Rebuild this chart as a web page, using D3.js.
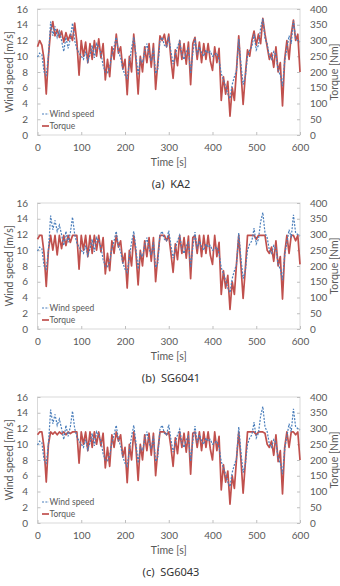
<!DOCTYPE html>
<html>
<head>
<meta charset="utf-8">
<title>Wind speed and torque</title>
<script src="https://cdn.jsdelivr.net/npm/d3@7/dist/d3.min.js"></script>
</head>
<body style="margin:0; background:#fff">
<svg width="340" height="586"></svg>

<script>
    // sample times [s]
    const time = [0,5,10,15,20,25,30,35,40,45,50,55,60,65,70,75,80,85,90,95,
        100,105,110,115,120,125,130,135,140,145,150,155,160,165,170,175,180,185,190,195,
        200,205,210,215,220,225,230,235,240,245,250,255,260,265,270,275,280,285,290,295,
        300,305,310,315,320,325,330,335,340,345,350,355,360,365,370,375,380,385,390,395,
        400,405,410,415,420,425,430,435,440,445,450,455,460,465,470,475,480,485,490,495,
        500,505,510,515,520,525,530,535,540,545,550,555,560,565,570,575,580,585,590,595,600];

    // wind speed [m/s] (same in every panel)
    const windSpeed = [9.9,10.4,10.2,8.0,7.6,10.0,14.4,12.6,13.8,12.4,13.2,12.0,10.6,12.4,11.0,12.2,14.2,12.0,10.9,10.4,
        10.0,9.6,10.6,9.3,10.2,11.4,9.8,11.6,11.2,10.4,8.8,8.0,7.9,8.6,10.2,11.2,12.4,10.6,9.8,8.4,
        7.6,7.2,9.2,11.0,12.4,10.2,7.6,9.6,9.2,10.6,11.6,10.2,9.4,11.0,7.8,8.4,12.0,12.4,11.4,11.2,
        12.5,10.6,9.0,10.2,11.2,11.9,10.2,9.6,10.6,11.0,7.8,10.4,12.3,10.2,11.2,10.4,10.0,10.8,10.4,10.6,
        10.0,10.2,10.4,9.6,7.8,7.0,6.2,5.2,4.6,6.4,7.4,8.2,12.2,9.0,6.4,7.4,10.0,10.8,11.2,12.8,
        10.8,11.4,13.6,14.8,12.2,11.6,10.0,9.6,10.6,10.2,8.2,7.6,6.2,9.4,11.0,12.6,11.6,14.5,12.2,12.0,11.8];

    // torque [Nm] for each turbine
    const torqueKA2 = [280,300,285,240,130,250,330,360,315,335,310,330,295,325,300,320,300,355,295,190,
        300,250,295,230,290,240,300,250,305,245,290,175,240,185,280,240,320,260,280,210,
        240,128,250,200,320,240,130,250,200,280,230,290,215,290,145,230,315,300,320,280,
        320,240,180,270,220,300,240,290,225,295,160,290,310,240,295,230,290,240,290,235,
        205,280,230,275,110,185,130,170,60,150,110,210,315,200,97,190,270,250,300,330,
        285,320,290,370,320,280,240,260,215,280,200,230,92,240,300,240,320,365,300,320,200];

    const torqueSG6041 = [285,297,297,240,135,250,297,250,297,235,297,255,297,265,297,275,297,297,297,190,
        297,250,297,230,297,240,297,250,297,245,290,175,240,185,280,240,297,260,280,210,
        240,130,250,200,297,240,140,250,200,280,230,290,215,290,150,230,297,297,297,280,
        297,240,180,270,220,297,240,290,225,295,160,290,297,240,297,230,297,240,297,235,
        205,297,230,275,110,185,130,170,62,150,110,210,297,200,97,190,297,297,297,297,
        285,297,297,297,297,250,240,260,215,280,200,230,95,240,297,240,297,297,280,297,205];

    const torqueSG6043 = [280,289,289,240,130,250,289,282,289,280,289,283,289,280,289,284,289,289,289,190,
        289,250,289,230,289,240,289,250,289,245,285,175,240,180,280,240,289,260,280,210,
        240,128,250,200,289,240,135,250,200,280,230,285,215,285,150,230,289,289,289,280,
        289,240,180,270,220,289,240,285,225,289,155,285,289,240,289,230,289,240,289,235,
        200,289,230,275,105,185,130,165,60,150,110,205,289,200,95,190,289,289,289,289,
        280,289,289,289,285,250,240,260,215,280,195,230,92,240,289,240,289,289,280,289,200];

    const captions = ["(a)  KA2", "(b)  SG6041", "(c)  SG6043"];
    const torques = [torqueKA2, torqueSG6041, torqueSG6043];

    const timeTicks = [0, 100, 200, 300, 400, 500, 600];
    const windTicks = [0, 2, 4, 6, 8, 10, 12, 14, 16];
    const torqueTicks = [0, 50, 100, 150, 200, 250, 300, 350, 400];

    const svg = d3.select("svg");
    const left = 37.5, right = 300, plotH = 126;
    const panelTops = [9, 203, 397];

    const x = d3.scaleLinear().domain([0, 600]).range([left, right]);
    const yWind = d3.scaleLinear().domain([0, 16]).range([plotH, 0]);
    const yTorque = d3.scaleLinear().domain([0, 400]).range([plotH, 0]);

    const tickFont = "Lato, 'Open Sans', sans-serif";

    captions.forEach((caption, p) => {
        const g = svg.append("g").attr("transform", `translate(0,${panelTops[p]})`);

        // plot frame
        g.append("rect")
            .attr("x", left).attr("y", 0)
            .attr("width", right - left).attr("height", plotH)
            .attr("fill", "none")
            .attr("stroke", "#d9d9d9")
            .attr("stroke-width", 1);

        // axes
        const axL = g.append("g").attr("transform", `translate(${left},0)`)
            .call(d3.axisLeft(yWind).tickValues(windTicks).tickSize(-3).tickPadding(9.5));
        const axR = g.append("g").attr("transform", `translate(${right},0)`)
            .call(d3.axisRight(yTorque).tickValues(torqueTicks).tickSize(-3).tickPadding(10));
        const axB = g.append("g").attr("transform", `translate(0,${plotH})`)
            .call(d3.axisBottom(x).tickValues(timeTicks).tickSize(-3).tickPadding(9));

        [axL, axR, axB].forEach(ax => {
            ax.select(".domain").remove();
            ax.selectAll("line").attr("stroke", "#bfbfbf");
            ax.selectAll("text")
                .attr("fill", "#595959")
                .style("font-family", tickFont)
                .style("font-size", "10px");
        });

        // torque line
        const torqueLine = d3.line()
            .x((d, i) => x(time[i]))
            .y(d => yTorque(d));
        g.append("path")
            .datum(torques[p])
            .attr("d", torqueLine)
            .attr("fill", "none")
            .attr("stroke", "#c0504d")
            .attr("stroke-width", 1.7)
            .attr("stroke-linejoin", "round");

        // wind speed line
        const windLine = d3.line()
            .x((d, i) => x(time[i]))
            .y(d => yWind(d));
        g.append("path")
            .datum(windSpeed)
            .attr("d", windLine)
            .attr("fill", "none")
            .attr("stroke", "#4a7ebb")
            .attr("stroke-width", 1.2)
            .attr("stroke-dasharray", "2,1.4");

        // legend
        const legend = [
            { name: "Wind speed", color: "#4a7ebb", dash: "2,1.4", y: 105 },
            { name: "Torque", color: "#c0504d", dash: null, y: 117 }
        ];
        legend.forEach(l => {
            g.append("line")
                .attr("x1", 42).attr("x2", 49)
                .attr("y1", l.y).attr("y2", l.y)
                .attr("stroke", l.color)
                .attr("stroke-width", l.dash ? 1.2 : 1.7)
                .attr("stroke-dasharray", l.dash);
            g.append("text")
                .attr("x", 49.5).attr("y", l.y + 3)
                .text(l.name)
                .attr("fill", "#595959")
                .style("font-family", tickFont)
                .style("font-size", "8.5px");
        });

        // axis titles
        g.append("text")
            .attr("transform", `translate(13,${plotH / 2}) rotate(-90)`)
            .attr("text-anchor", "middle")
            .text("Wind speed [m/s]")
            .attr("fill", "#595959")
            .style("font-family", tickFont)
            .style("font-size", "10.5px");

        g.append("text")
            .attr("transform", `translate(338,${plotH / 2}) rotate(-90)`)
            .attr("text-anchor", "middle")
            .text("Torque [Nm]")
            .attr("fill", "#595959")
            .style("font-family", tickFont)
            .style("font-size", "10.5px");

        g.append("text")
            .attr("x", (left + right) / 2)
            .attr("y", plotH + 31)
            .attr("text-anchor", "middle")
            .text("Time [s]")
            .attr("fill", "#595959")
            .style("font-family", tickFont)
            .style("font-size", "10.5px");

        // caption
        g.append("text")
            .attr("x", 171)
            .attr("y", plotH + 53)
            .attr("text-anchor", "middle")
            .attr("xml:space", "preserve")
            .style("white-space", "pre")
            .text(caption)
            .attr("fill", "#333")
            .style("font-family", "'Noto Sans', sans-serif")
            .style("font-size", "11px");
    });
</script>
</body>
</html>
